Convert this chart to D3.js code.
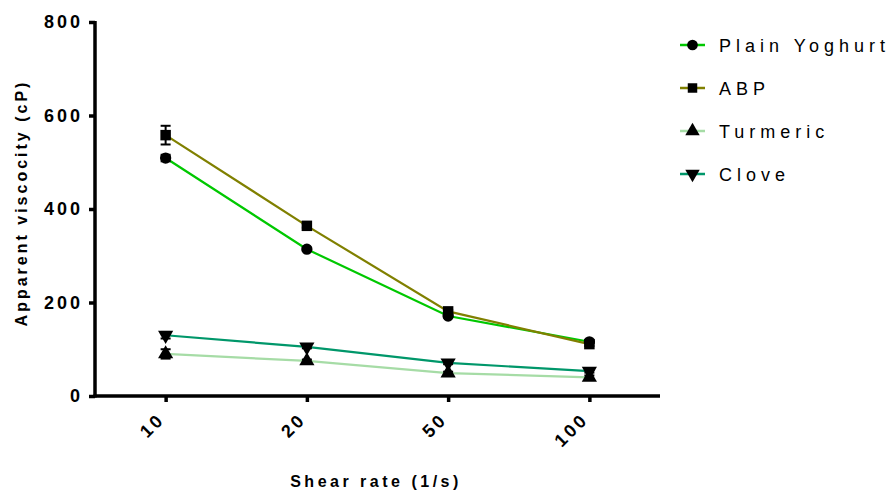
<!DOCTYPE html>
<html>
<head>
<meta charset="utf-8">
<script src="https://cdn.jsdelivr.net/npm/d3@7"></script>
<style>
  body { margin: 0; background: #fff; }
  text { font-family: "Liberation Sans", Arial, sans-serif; }
</style>
</head>
<body>
<svg id="chart" width="893" height="490"></svg>
<script>
// data
const rates = ["10", "20", "50", "100"];
const seriesNames = ["Plain Yoghurt", "ABP", "Turmeric", "Clove"];
const plainYoghurt = [509, 314, 171, 116];
const abp = [558, 364, 181, 111];
const turmeric = [90, 75, 49, 40];
const clove = [130, 105, 71, 53];
const plainErr = [7, 3, 3, 3];
const abpErr = [20, 4, 3, 4];
const turmericErr = [10, 3, 3, 4];
const cloveErr = [7, 3, 3, 3];
const yTicks = [0, 200, 400, 600, 800];
const colors = ["#00c800", "#808000", "#a6dca6", "#00976a"];
const symbols = [d3.symbolCircle, d3.symbolSquare, d3.symbolTriangle, "down"];

const values = [plainYoghurt, abp, turmeric, clove];
const errs = [plainErr, abpErr, turmericErr, cloveErr];

var svg = d3.select("#chart");
var mLeft = 95, mRight = 660, mTop = 22, mBottom = 396;

var x = d3.scalePoint().domain(rates).range([mLeft, mRight]).padding(0.5);
var y = d3.scaleLinear().domain([0, 800]).range([mBottom, mTop]);

// lines
var line = d3.line()
    .x(function(d, i) { return x(rates[i]) })
    .y(function(d) { return y(d) });

for (let s = 0; s < values.length; s++) {
    svg.append("path")
        .datum(values[s])
        .attr("fill", "none")
        .attr("stroke", colors[s])
        .attr("stroke-width", 2.2)
        .attr("d", line);
}

function marker(s, size) {
    if (symbols[s] == "down") {
        return d3.symbol().type(d3.symbolTriangle).size(size)();
    }
    return d3.symbol().type(symbols[s]).size(size)();
}

// error bars + markers
for (let s = 0; s < values.length; s++) {
    for (let i = 0; i < rates.length; i++) {
        let cx = x(rates[i]), v = values[s][i], e = errs[s][i];
        let g = svg.append("g");
        g.append("line").attr("x1", cx).attr("x2", cx)
            .attr("y1", y(v + e)).attr("y2", y(v - e))
            .attr("stroke", "#000").attr("stroke-width", 2);
        [v + e, v - e].forEach(function(ev) {
            g.append("line").attr("x1", cx - 5).attr("x2", cx + 5)
                .attr("y1", y(ev)).attr("y2", y(ev))
                .attr("stroke", "#000").attr("stroke-width", 2);
        });
        let sz = s == 1 ? 110 : 100;
        let rot = symbols[s] == "down" ? " rotate(180)" : "";
        g.append("path")
            .attr("d", marker(s, sz))
            .attr("transform", "translate(" + cx + "," + y(v) + ")" + rot)
            .attr("fill", "#000");
    }
}

// y axis
var yAxis = svg.append("g")
    .attr("transform", "translate(" + mLeft + ",0)")
    .call(d3.axisLeft(y).tickValues(yTicks).tickSize(6).tickPadding(6));
yAxis.select(".domain").attr("stroke-width", 3.5).attr("d", "M0," + (mTop - 1) + "V" + (mBottom + 1.5));
yAxis.selectAll(".tick line").attr("stroke-width", 3.5);
yAxis.selectAll(".tick text")
    .attr("font-size", 18).attr("font-weight", "bold")
    .style("letter-spacing", "3px")
    .attr("fill", "#000");

// x axis
var xAxis = svg.append("g")
    .attr("transform", "translate(0," + mBottom + ")")
    .call(d3.axisBottom(x).tickSize(6));
xAxis.select(".domain").attr("stroke-width", 3.5).attr("d", "M" + (mLeft - 1.5) + ",0H" + mRight);
xAxis.selectAll(".tick line").attr("stroke-width", 3.5);
xAxis.selectAll(".tick text")
    .attr("font-size", 18).attr("font-weight", "bold")
    .style("letter-spacing", "3px")
    .attr("fill", "#000")
    .attr("text-anchor", "end")
    .attr("y", 0)
    .attr("dy", "0.35em")
    .attr("transform", "translate(-5,20) rotate(-45)");

// axis titles
svg.append("text")
    .attr("x", 376).attr("y", 487)
    .attr("text-anchor", "middle")
    .attr("font-size", 16).attr("font-weight", "bold")
    .style("letter-spacing", "3.5px")
    .text("Shear rate (1/s)");

svg.append("text")
    .attr("transform", "translate(27,203) rotate(-90)")
    .attr("text-anchor", "middle")
    .attr("font-size", 16).attr("font-weight", "bold")
    .style("letter-spacing", "3px")
    .text("Apparent viscocity (cP)");

// legend
var legend = svg.append("g");
for (let s = 0; s < seriesNames.length; s++) {
    let ly = 45 + s * 43;
    legend.append("line").attr("x1", 680).attr("x2", 705)
        .attr("y1", ly).attr("y2", ly)
        .attr("stroke", colors[s]).attr("stroke-width", 2.5);
    let rot = symbols[s] == "down" ? " rotate(180)" : "";
    legend.append("path")
        .attr("d", marker(s, 90))
        .attr("transform", "translate(692.5," + ly + ")" + rot)
        .attr("fill", "#000");
    legend.append("text")
        .attr("x", 719).attr("y", ly + 7)
        .attr("font-size", 18)
        .style("letter-spacing", "5px")
        .text(seriesNames[s]);
}
</script>
</body>
</html>
